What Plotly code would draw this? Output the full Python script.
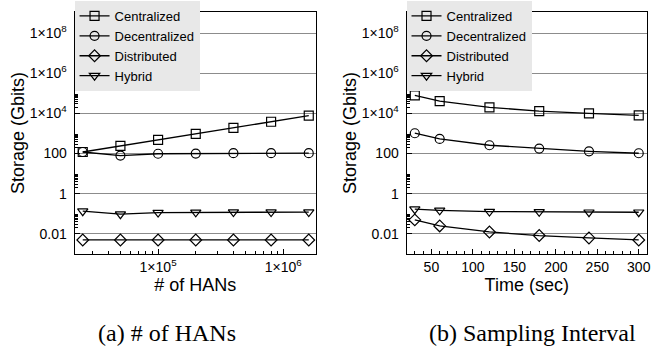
import plotly.graph_objects as go
import numpy as np

# ---- data ----
hans = [25000, 50000, 100000, 200000, 400000, 800000, 1600000]
cent_a = [120, 240, 480, 960, 1920, 3840, 7680]
decent_a = [120, 80, 98, 100, 105, 105, 105]
dist_a = [0.005, 0.005, 0.005, 0.005, 0.005, 0.005, 0.005]
hybrid_a = [0.135, 0.096, 0.116, 0.118, 0.122, 0.122, 0.122]

interval = [30, 60, 120, 180, 240, 300]
cent_b = [80000, 41000, 20000, 13000, 10000, 8000]
decent_b = [1030, 540, 260, 178, 130, 104]
dist_b = [0.05, 0.025, 0.0125, 0.0083, 0.0063, 0.005]
hybrid_b = [0.17, 0.15, 0.13, 0.125, 0.12, 0.12]

series_names = ["Centralized", "Decentralized", "Distributed", "Hybrid"]
symbols = ["square-open", "circle-open", "diamond-open", "triangle-down-open"]

y_tickvals = [1e8, 1e6, 1e4, 100, 1, 0.01]
y_ticktext = ["1×10<sup>8</sup>", "1×10<sup>6</sup>", "1×10<sup>4</sup>", "100", "1", "0.01"]
xa_tickvals = [1e5, 1e6]
xa_ticktext = ["1×10<sup>5</sup>", "1×10<sup>6</sup>"]

W, H = 657, 358
FONT = "Liberation Sans, Arial, Helvetica, sans-serif"
SERIF = "Liberation Serif, Times New Roman, serif"

def px_x(p):
    return p / W

def px_y(p):
    return 1 - p / H

fig = go.Figure()

for name, sym, ya in zip(series_names, symbols, [cent_a, decent_a, dist_a, hybrid_a]):
    fig.add_trace(go.Scatter(
        x=hans, y=ya, name=name, mode="lines+markers",
        line=dict(color="black", width=1.3),
        marker=dict(symbol=sym, size=9, color="black", line=dict(width=1.2, color="black")),
        xaxis="x", yaxis="y", legend="legend"))

for name, sym, yb in zip(series_names, symbols, [cent_b, decent_b, dist_b, hybrid_b]):
    fig.add_trace(go.Scatter(
        x=interval, y=yb, name=name, mode="lines+markers",
        line=dict(color="black", width=1.3),
        marker=dict(symbol=sym, size=9, color="black", line=dict(width=1.2, color="black")),
        xaxis="x2", yaxis="y2", legend="legend2"))

# minor tick positions
y_minor = [m * 10.0 ** k for k in [-2, 0, 2, 4, 6] for m in range(2, 10)]
xa_minor = [m * 10.0 ** k for k in [4, 5] for m in range(2, 10)] + [2e6]

y_dom = [px_y(254), px_y(12)]
dom_a = [px_x(75), px_x(318)]
dom_b = [px_x(409), px_x(651)]

axis_common = dict(
    showline=True, linecolor="black", linewidth=1, mirror=True,
    ticks="inside", ticklen=5, tickcolor="black", tickwidth=1,
    tickfont=dict(family=FONT, size=14, color="black"),
    zeroline=False,
)

yaxis_common = dict(
    axis_common, type="log", range=[-3, 9.05], domain=y_dom,
    tickmode="array", tickvals=y_tickvals, ticktext=y_ticktext,
    showgrid=True, gridcolor="#8c8c8c", gridwidth=1,
    minor=dict(tickmode="array", tickvals=y_minor, ticks="inside", ticklen=3,
               tickcolor="black", showgrid=False),
    ticklabelstandoff=4,
    title=dict(text="Storage (Gbits)", font=dict(family=FONT, size=18, color="black"), standoff=0),
)

legend_common = dict(xanchor="left", yanchor="top", bgcolor="#e8e8e8", borderwidth=0,
                     font=dict(family=FONT, size=13, color="black"), tracegroupgap=0)

fig.update_layout(
    width=W, height=H,
    margin=dict(l=0, r=0, t=0, b=0),
    paper_bgcolor="white", plot_bgcolor="white",
    font=dict(family=FONT, color="black"),
    xaxis=dict(
        axis_common, type="log", range=[np.log10(21500), np.log10(1830000)], domain=dom_a,
        anchor="y", tickmode="array", tickvals=xa_tickvals, ticktext=xa_ticktext,
        showgrid=False,
        minor=dict(tickmode="array", tickvals=xa_minor, ticks="inside", ticklen=3,
                   tickcolor="black", showgrid=False),
        title=dict(text="# of HANs", font=dict(family=FONT, size=18, color="black"), standoff=0),
    ),
    yaxis=dict(yaxis_common, anchor="x"),
    xaxis2=dict(
        axis_common, range=[20, 310], domain=dom_b, anchor="y2",
        tickmode="linear", tick0=0, dtick=50, showgrid=False,
        minor=dict(dtick=10, tick0=0, ticks="inside", ticklen=3, tickcolor="black", showgrid=False),
        title=dict(text="Time (sec)", font=dict(family=FONT, size=18, color="black"), standoff=0),
    ),
    yaxis2=dict(yaxis_common, anchor="x2"),
    legend=dict(legend_common, x=dom_a[0], y=px_y(1)),
    legend2=dict(legend_common, x=dom_b[0], y=px_y(1)),
    annotations=[
        dict(text="(a) # of HANs", x=px_x(168), y=px_y(333), xref="paper", yref="paper",
             showarrow=False, xanchor="center", yanchor="middle",
             font=dict(family=SERIF, size=24, color="black")),
        dict(text="(b) Sampling Interval", x=px_x(536), y=px_y(333), xref="paper", yref="paper",
             showarrow=False, xanchor="center", yanchor="middle",
             font=dict(family=SERIF, size=24, color="black")),
    ],
)

fig.write_html("out.html", config={"displayModeBar": False},
               post_script="document.body.style.margin='0px';")
